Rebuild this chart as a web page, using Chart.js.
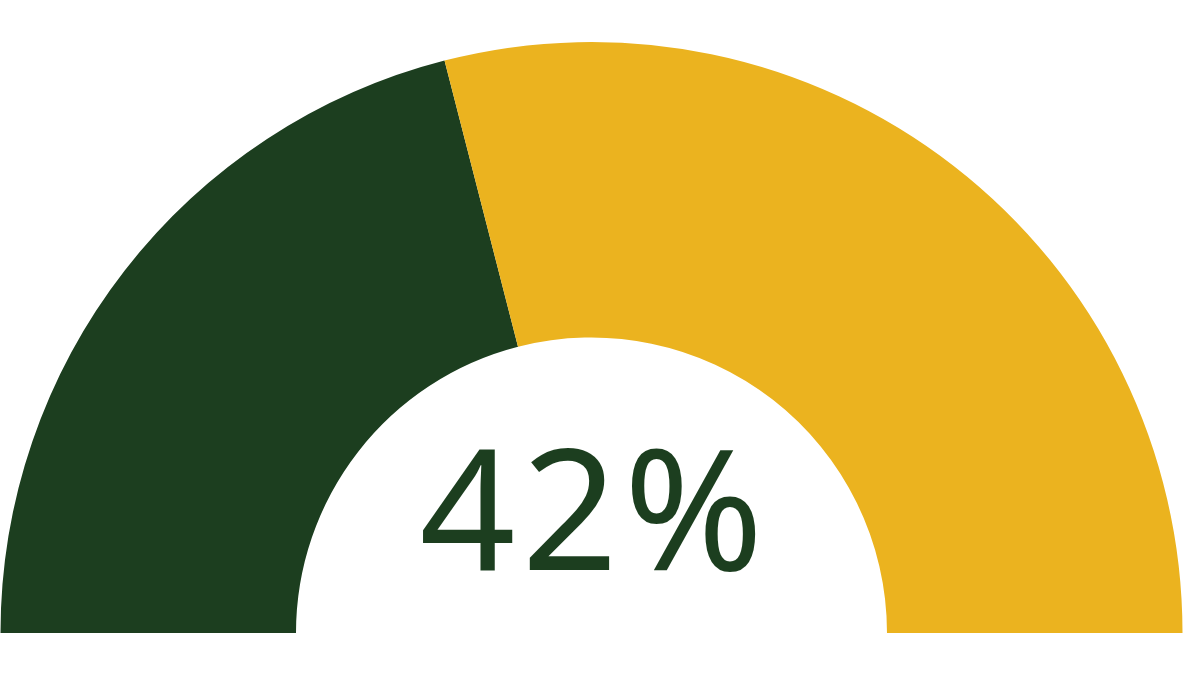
<!DOCTYPE html>
<html>
<head>
<meta charset="utf-8">
<title>Gauge 42%</title>
<script src="https://cdn.jsdelivr.net/npm/chart.js@4.4.0/dist/chart.umd.min.js"></script>
<style>
    html, body { margin: 0; padding: 0; background: #ffffff; }
    #chartWrap { width: 1200px; height: 675px; position: relative; }
</style>
</head>
<body>
<div id="chartWrap">
    <canvas id="gaugeChart"></canvas>
</div>
<script>
const segmentLabels = ['Concluído', 'Restante'];
const segmentValues = [42, 58];
const segmentColors = ['#1c3e1f', '#ebb31f'];
const centerLabel = '42%';

// texto no centro do semicírculo
const centerTextPlugin = {
    id: 'centerText',
    afterDraw(chart) {
        const { ctx } = chart;
        const arc = chart.getDatasetMeta(0).data[0];
        if (!arc) return;
        ctx.save();
        ctx.font = '168px "Noto Sans"';
        if ('letterSpacing' in ctx) ctx.letterSpacing = '6px';
        ctx.fillStyle = '#1c3e1f';
        ctx.textAlign = 'center';
        ctx.textBaseline = 'alphabetic';
        ctx.fillText(centerLabel, arc.x + 3, arc.y - 63);
        ctx.restore();
    }
};

document.addEventListener('DOMContentLoaded', () => {
    const ctx = document.getElementById('gaugeChart').getContext('2d');

    new Chart(ctx, {
        type: 'doughnut',
        data: {
            labels: segmentLabels,
            datasets: [{
                data: segmentValues,
                backgroundColor: segmentColors,
                borderWidth: 0
            }]
        },
        options: {
            responsive: true,
            maintainAspectRatio: false,
            animation: false,
            rotation: -90,
            circumference: 180,
            cutout: '50%',
            layout: { padding: { left: 0, right: 17, top: 42, bottom: 42 } },
            plugins: {
                legend: { display: false },
                tooltip: { enabled: false },
                title: { display: false }
            }
        },
        plugins: [centerTextPlugin]
    });
});
</script>
</body>
</html>
